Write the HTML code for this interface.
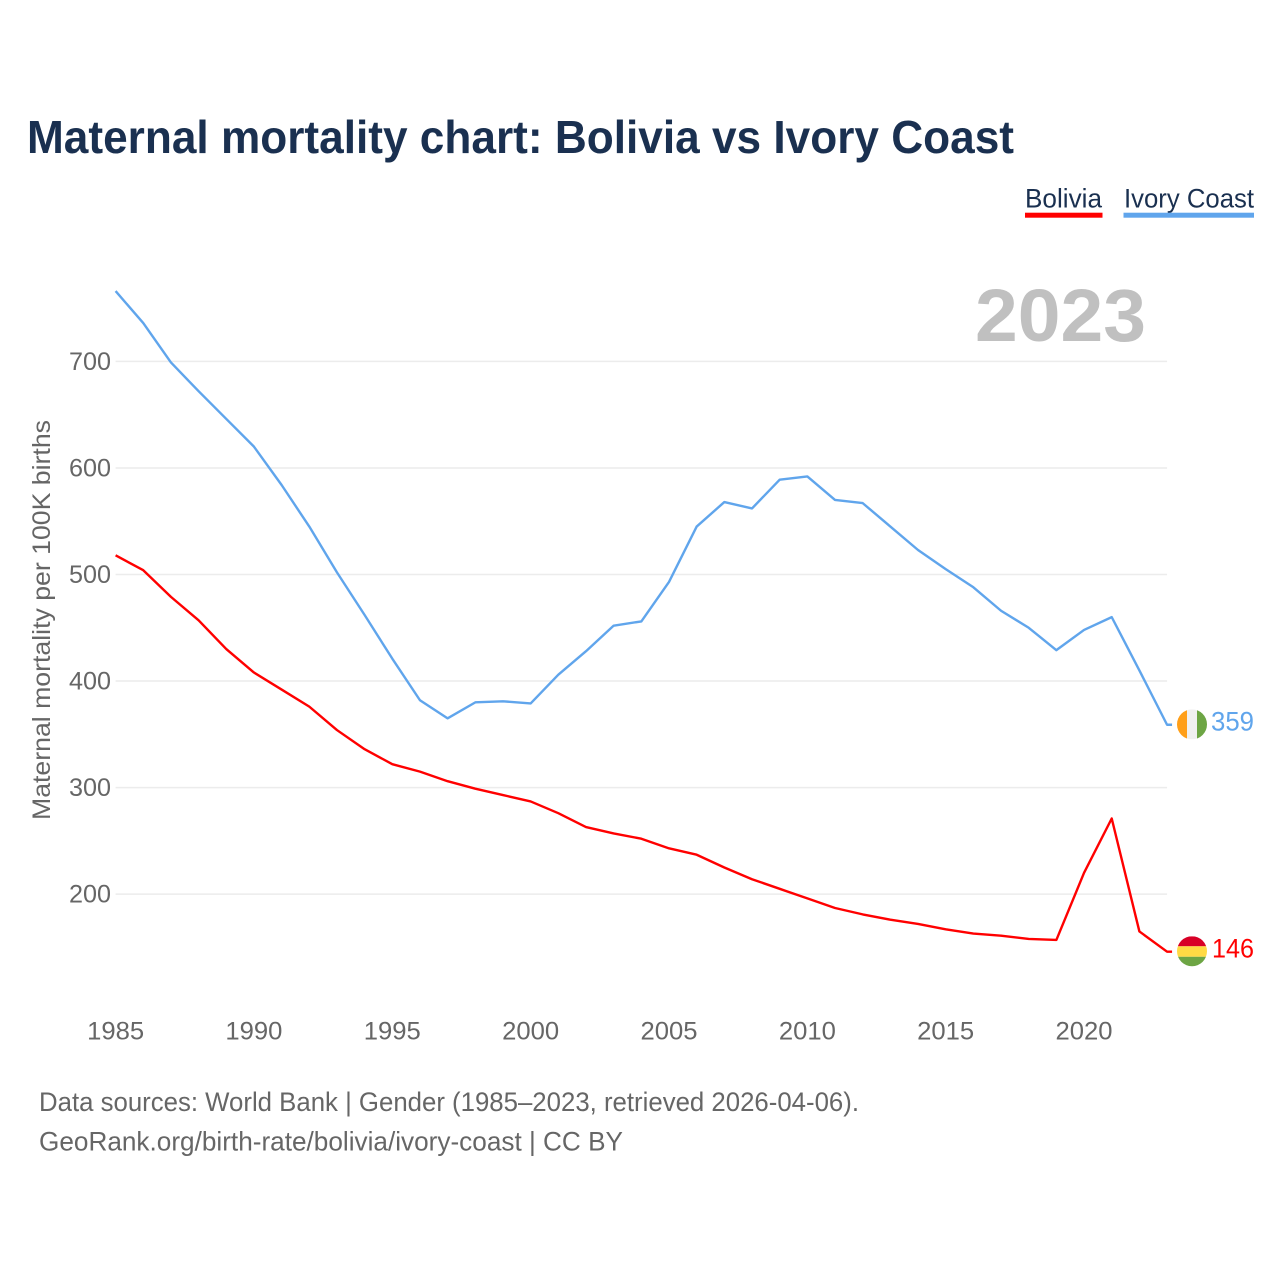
<!DOCTYPE html>
<html lang="en">
<head>
<meta charset="utf-8">
<title>Maternal mortality chart: Bolivia vs Ivory Coast</title>
<style>
html,body{margin:0;padding:0;background:#fff;}
svg{display:block;font-family:"Liberation Sans",sans-serif;}
</style>
</head>
<body>
<svg id="chart" xmlns="http://www.w3.org/2000/svg" width="1280" height="1280" viewBox="0 0 1280 1280">
  <rect x="0" y="0" width="1280" height="1280" fill="#fff"/>
  <text x="27" y="153" font-size="46" font-weight="700" fill="#1a3050" textLength="987" lengthAdjust="spacingAndGlyphs">Maternal mortality chart: Bolivia vs Ivory Coast</text>

  <g>
    <g>
      <text x="1025" y="207.5" font-size="27" fill="#1a3050" textLength="77" lengthAdjust="spacingAndGlyphs">Bolivia</text>
      <rect x="1025" y="212.7" width="77.5" height="5" fill="#ff0000"/>
    </g>
    <g>
      <text x="1124" y="207.5" font-size="27" fill="#1a3050" textLength="130" lengthAdjust="spacingAndGlyphs">Ivory Coast</text>
      <rect x="1123.5" y="212.7" width="130.5" height="5" fill="#60a5ec"/>
    </g>
  </g>

  <g id="grid"></g>
  <text x="975" y="341" font-size="74" font-weight="700" fill="#c0c0c0" textLength="171" lengthAdjust="spacingAndGlyphs">2023</text>
  <g id="yticks"></g>
  <g id="xticks"></g>
  <text transform="translate(50 820) rotate(-90)" x="0" y="0" font-size="25" fill="#666" textLength="400" lengthAdjust="spacingAndGlyphs">Maternal mortality per 100K births</text>

  <polyline id="line-ivory" fill="none" stroke="#60a5ec" stroke-width="2.4" stroke-linejoin="round"/>
  <polyline id="line-bolivia" fill="none" stroke="#ff0000" stroke-width="2.4" stroke-linejoin="round"/>

  <defs>
    <clipPath id="clip-ivory"><circle id="clip-ivory-c" cx="1192" cy="724" r="15"/></clipPath>
    <clipPath id="clip-bolivia"><circle id="clip-bolivia-c" cx="1192" cy="951" r="15"/></clipPath>
  </defs>
  <g id="flag-ivory" clip-path="url(#clip-ivory)"></g>
  <g id="flag-bolivia" clip-path="url(#clip-bolivia)"></g>
  <text id="value-ivory" x="1254" font-size="27" fill="#60a5ec" text-anchor="end"></text>
  <text id="value-bolivia" x="1254" font-size="27" fill="#ff0000" text-anchor="end"></text>

  <text x="39" y="1111" font-size="27" fill="#666" textLength="820" lengthAdjust="spacingAndGlyphs">Data sources: World Bank | Gender (1985–2023, retrieved 2026-04-06).</text>
  <text x="39" y="1150.5" font-size="27" fill="#666" textLength="584" lengthAdjust="spacingAndGlyphs">GeoRank.org/birth-rate/bolivia/ivory-coast | CC BY</text>
</svg>
<script>
var years = [1985,1986,1987,1988,1989,1990,1991,1992,1993,1994,1995,1996,1997,1998,1999,2000,2001,2002,2003,2004,2005,2006,2007,2008,2009,2010,2011,2012,2013,2014,2015,2016,2017,2018,2019,2020,2021,2022,2023];
var ivoryCoast = [766,736,699,672,646,620,584,545,502,462,421,382,365,380,381,379,406,428,452,456,493,545,568,562,589,592,570,567,545,523,505,488,466,450,429,448,460,410,359];
var bolivia = [518,504,479,457,430,408,392,376,354,336,322,315,306,299,293,287,276,263,257,252,243,237,225,214,205,196,187,181,176,172,167,163,161,158,157,220,271,165,146];
var yTickValues = [200,300,400,500,600,700];
var xTickValues = [1985,1990,1995,2000,2005,2010,2015,2020];

var NS = 'http://www.w3.org/2000/svg';
function xScale(year){ return 115.6 + (year - 1985) * 27.67; }
function yScale(v){ return 361.4 + (700 - v) * 1.0655; }
function make(tag, parent, props, content){
  var el = document.createElementNS(NS, tag);
  for (var k in props) el.setAttribute(k, props[k]);
  if (content !== undefined) el.textContent = content;
  parent.appendChild(el);
  return el;
}
function drawLine(id, values){
  var pts = values.map(function(v, i){ return xScale(years[i]).toFixed(2) + ',' + yScale(v).toFixed(2); });
  var last = values[values.length - 1];
  pts.push((xScale(years[years.length - 1]) + 5).toFixed(2) + ',' + yScale(last).toFixed(2));
  document.getElementById(id).setAttribute('points', pts.join(' '));
}
var grid = document.getElementById('grid');
var yticks = document.getElementById('yticks');
var xticks = document.getElementById('xticks');
yTickValues.forEach(function(v){
  var line = make('line', grid, {x1: xScale(1985), x2: xScale(2023), y1: yScale(v), y2: yScale(v), stroke: '#ececec', 'stroke-width': 1.5});
  
  
  var label = make('text', yticks, {x: 111, y: yScale(v) + 8.5, 'font-size': 25, fill: '#666', 'text-anchor': 'end', textLength: 42, lengthAdjust: 'spacingAndGlyphs'}, String(v));
  
  
});
xTickValues.forEach(function(y){
  var label = make('text', xticks, {x: xScale(y), y: 1039.5, 'font-size': 25, fill: '#666', 'text-anchor': 'middle', textLength: 57, lengthAdjust: 'spacingAndGlyphs'}, String(y));
  
  
});
drawLine('line-ivory', ivoryCoast);
drawLine('line-bolivia', bolivia);

var lastIvory = ivoryCoast[ivoryCoast.length - 1];
var lastBolivia = bolivia[bolivia.length - 1];
var yIvory = yScale(lastIvory) - 0.4;
var yBolivia = yScale(lastBolivia) - 0.4;
document.getElementById('clip-ivory-c').setAttribute('cy', yIvory);
document.getElementById('clip-bolivia-c').setAttribute('cy', yBolivia);
var fi = document.getElementById('flag-ivory');
make('rect', fi, {x: 1177, y: yIvory - 15, width: 10, height: 30, fill: '#ff9f19'});
make('rect', fi, {x: 1187, y: yIvory - 15, width: 10, height: 30, fill: '#f0f0f0'});
make('rect', fi, {x: 1197, y: yIvory - 15, width: 10, height: 30, fill: '#6da544'});
var fb = document.getElementById('flag-bolivia');
make('rect', fb, {x: 1177, y: yBolivia - 15, width: 30, height: 10, fill: '#d80027'});
make('rect', fb, {x: 1177, y: yBolivia - 5, width: 30, height: 10.5, fill: '#ffda44'});
make('rect', fb, {x: 1177, y: yBolivia + 5.5, width: 30, height: 10, fill: '#6da544'});
var vi = document.getElementById('value-ivory');
vi.setAttribute('y', yIvory + 6);
vi.setAttribute('textLength', 43);
vi.setAttribute('lengthAdjust', 'spacingAndGlyphs');
vi.textContent = String(lastIvory);
var vb = document.getElementById('value-bolivia');
vb.setAttribute('y', yBolivia + 6);
vb.setAttribute('textLength', 42);
vb.setAttribute('lengthAdjust', 'spacingAndGlyphs');
vb.textContent = String(lastBolivia);
</script>
</body>
</html>
